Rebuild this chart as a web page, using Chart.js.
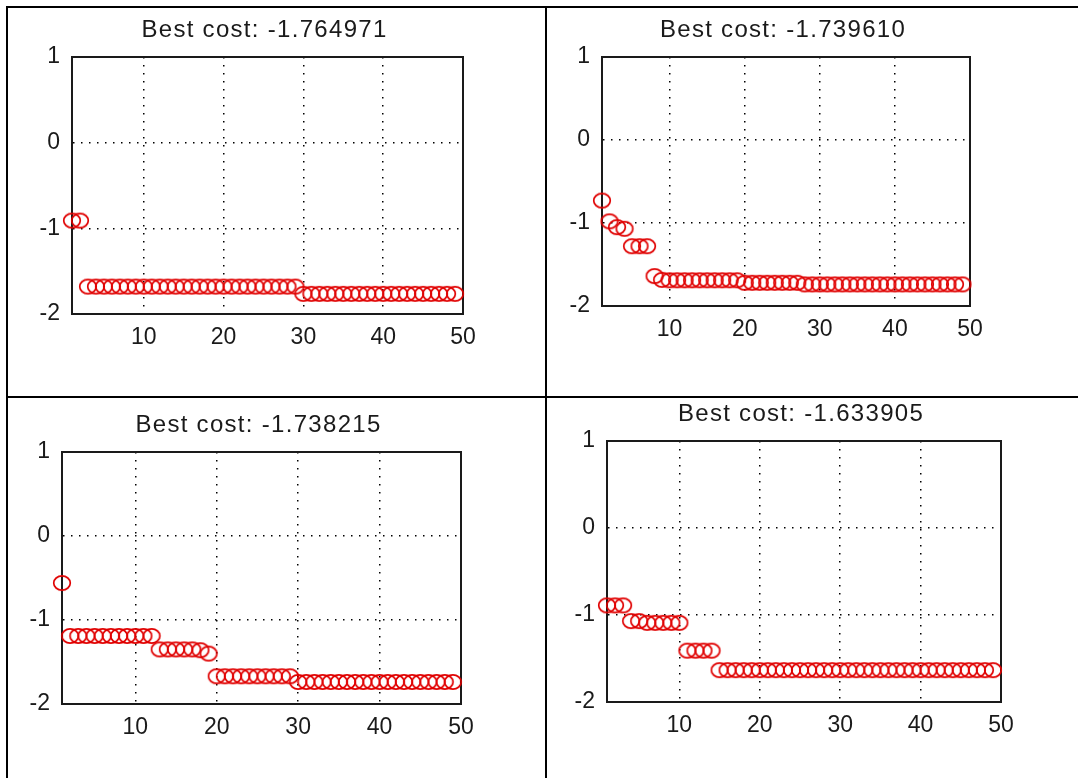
<!DOCTYPE html>
<html>
<head>
<meta charset="utf-8">
<script src="https://cdn.jsdelivr.net/npm/chart.js@4.4.1/dist/chart.umd.min.js"></script>
<style>
    html, body { margin: 0; padding: 0; background: #fff; }
    body { width: 1078px; height: 778px; position: relative; overflow: hidden; }
    .rule { position: absolute; background: #000; }
    canvas { position: absolute; }
</style>
</head>
<body>
<div class="rule" style="left:6px; top:6px; width:1072px; height:2px"></div>
<div class="rule" style="left:6px; top:6px; width:2px; height:772px"></div>
<div class="rule" style="left:545px; top:6px; width:2px; height:772px"></div>
<div class="rule" style="left:6px; top:396px; width:1072px; height:2px"></div>
<canvas id="chart1"></canvas>
<canvas id="chart2"></canvas>
<canvas id="chart3"></canvas>
<canvas id="chart4"></canvas>
<script>
// --- data (iterations 1..49) ---
const xTicks = [10, 20, 30, 40, 50];
const yTicks = [-2, -1, 0, 1];
const titles = [
    'Best cost: -1.764971',
    'Best cost: -1.739610',
    'Best cost: -1.738215',
    'Best cost: -1.633905'
];

const cost1 = [
    -0.91, -0.91, -1.68, -1.68, -1.68, -1.68, -1.68, -1.68, -1.68, -1.68,
    -1.68, -1.68, -1.68, -1.68, -1.68, -1.68, -1.68, -1.68, -1.68, -1.68,
    -1.68, -1.68, -1.68, -1.68, -1.68, -1.68, -1.68, -1.68, -1.68, -1.765,
    -1.765, -1.765, -1.765, -1.765, -1.765, -1.765, -1.765, -1.765, -1.765, -1.765,
    -1.765, -1.765, -1.765, -1.765, -1.765, -1.765, -1.765, -1.765, -1.765
];
const cost2 = [
    -0.73, -0.98, -1.05, -1.07, -1.28, -1.28, -1.28, -1.64, -1.685, -1.69,
    -1.69, -1.69, -1.69, -1.69, -1.69, -1.69, -1.69, -1.69, -1.69, -1.72,
    -1.72, -1.72, -1.72, -1.72, -1.72, -1.72, -1.72, -1.74, -1.74, -1.74,
    -1.74, -1.74, -1.74, -1.74, -1.74, -1.74, -1.74, -1.74, -1.74, -1.74,
    -1.74, -1.74, -1.74, -1.74, -1.74, -1.74, -1.74, -1.74, -1.74
];
const cost3 = [
    -0.56, -1.19, -1.19, -1.19, -1.19, -1.19, -1.19, -1.19, -1.19, -1.19,
    -1.19, -1.19, -1.35, -1.35, -1.35, -1.35, -1.35, -1.36, -1.40, -1.67,
    -1.67, -1.67, -1.67, -1.67, -1.67, -1.67, -1.67, -1.67, -1.67, -1.738,
    -1.738, -1.738, -1.738, -1.738, -1.738, -1.738, -1.738, -1.738, -1.738, -1.738,
    -1.738, -1.738, -1.738, -1.738, -1.738, -1.738, -1.738, -1.738, -1.738
];
const cost4 = [
    -0.89, -0.89, -0.89, -1.07, -1.07, -1.09, -1.09, -1.09, -1.09, -1.09,
    -1.41, -1.41, -1.41, -1.41, -1.634, -1.634, -1.634, -1.634, -1.634, -1.634,
    -1.634, -1.634, -1.634, -1.634, -1.634, -1.634, -1.634, -1.634, -1.634, -1.634,
    -1.634, -1.634, -1.634, -1.634, -1.634, -1.634, -1.634, -1.634, -1.634, -1.634,
    -1.634, -1.634, -1.634, -1.634, -1.634, -1.634, -1.634, -1.634, -1.634
];

// --- page layout: canvas box [x, y, w, h] and axes box [left, top, right, bottom] ---
const panels = [
    { id: 'chart1', values: cost1, title: titles[0], box: [8, 8, 537, 388],   area: [72, 57, 463, 314] },
    { id: 'chart2', values: cost2, title: titles[1], box: [547, 8, 531, 388], area: [602, 57, 970, 306] },
    { id: 'chart3', values: cost3, title: titles[2], box: [8, 398, 537, 380], area: [62, 452, 461, 704] },
    { id: 'chart4', values: cost4, title: titles[3], box: [547, 398, 531, 380], area: [607, 441, 1001, 702] }
];

const Y_AXIS_W = 40;
const X_AXIS_H = 40;
const INK = '#1a1a1a';
const FONT = '"Liberation Sans", Arial, Helvetica, sans-serif';

Chart.defaults.font.family = FONT;

// open red ellipse like the matlab 'o' marker
function makeMarker() {
    const c = document.createElement('canvas');
    c.width = 20;
    c.height = 18;
    const g = c.getContext('2d');
    g.strokeStyle = '#e00000';
    g.lineWidth = 1.7;
    g.beginPath();
    g.ellipse(10, 9, 8.3, 7.1, 0, 0, Math.PI * 2);
    g.stroke();
    return c;
}
const marker = makeMarker();

// top and right sides of the axes box
const boxFrame = {
    id: 'boxFrame',
    beforeDatasetsDraw(chart) {
        const { ctx, chartArea: a } = chart;
        ctx.save();
        ctx.strokeStyle = INK;
        ctx.lineWidth = 2;
        ctx.beginPath();
        ctx.moveTo(a.left - 1, a.top);
        ctx.lineTo(a.right, a.top);
        ctx.lineTo(a.right, a.bottom + 1);
        ctx.stroke();
        ctx.restore();
    }
};

// title centred over the axes box (matlab style)
const costTitle = {
    id: 'costTitle',
    afterDraw(chart, args, opts) {
        const { ctx, chartArea: a } = chart;
        ctx.save();
        ctx.font = '24px ' + FONT;
        ctx.fillStyle = INK;
        ctx.textAlign = 'center';
        ctx.textBaseline = 'alphabetic';
        if ('letterSpacing' in ctx) ctx.letterSpacing = '1.3px';
        ctx.fillText(opts.text, (a.left + a.right) / 2 - 3, a.top - 20);
        ctx.restore();
    }
};

function initPanel(p) {
    const el = document.getElementById(p.id);
    const [cx, cy, cw, ch] = p.box;
    const [l, t, r, b] = p.area;
    el.width = cw;
    el.height = ch;
    el.style.left = cx + 'px';
    el.style.top = cy + 'px';

    new Chart(el, {
        type: 'scatter',
        data: {
            datasets: [{
                data: p.values.map((v, i) => ({ x: i + 1, y: v })),
                pointStyle: marker,
                pointRadius: 9,
                pointHoverRadius: 9,
                showLine: false,
                clip: false
            }]
        },
        options: {
            responsive: false,
            animation: false,
            events: [],
            layout: {
                padding: {
                    left: l - cx - Y_AXIS_W,
                    top: t - cy,
                    right: cx + cw - r,
                    bottom: cy + ch - b - X_AXIS_H
                }
            },
            plugins: {
                legend: { display: false },
                tooltip: { enabled: false },
                title: { display: false },
                costTitle: { text: p.title }
            },
            scales: {
                x: {
                    type: 'linear',
                    min: 1,
                    max: 50,
                    afterBuildTicks: s => { s.ticks = xTicks.map(v => ({ value: v })); },
                    afterFit: s => { s.height = X_AXIS_H; },
                    grid: { color: '#000', lineWidth: 1.5, drawTicks: false },
                    border: { color: INK, width: 2, dash: [1.5, 6.5] },
                    ticks: {
                        padding: 10,
                        color: INK,
                        maxRotation: 0,
                        font: { size: 23 },
                        callback: v => String(v)
                    }
                },
                y: {
                    min: -2,
                    max: 1,
                    afterBuildTicks: s => { s.ticks = yTicks.map(v => ({ value: v })); },
                    afterFit: s => { s.width = Y_AXIS_W; },
                    grid: { color: '#000', lineWidth: 1.5, drawTicks: false },
                    border: { color: INK, width: 2, dash: [1.5, 6.5] },
                    ticks: {
                        padding: 12,
                        color: INK,
                        font: { size: 23 },
                        callback: v => String(v)
                    }
                }
            }
        },
        plugins: [boxFrame, costTitle]
    });
}

panels.forEach(initPanel);
</script>
</body>
</html>
